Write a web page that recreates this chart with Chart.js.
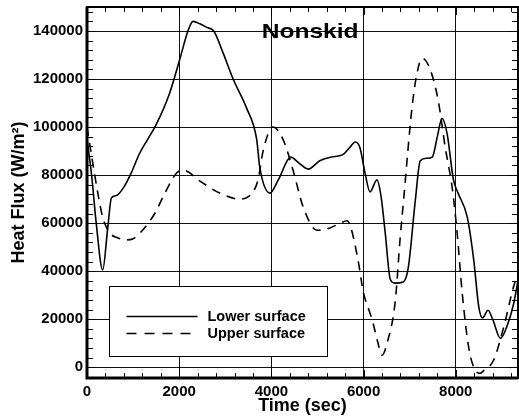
<!DOCTYPE html>
<html>
<head>
    <script src="https://cdn.jsdelivr.net/npm/chart.js"></script>
    <style>
        html, body { margin: 0; padding: 0; background: #fff; }
        #wrap { width: 519px; height: 417px; }
    </style>
</head>
<body>
    <div id="wrap">
        <canvas id="heatChart"></canvas>
    </div>

    <script>
        // series: time (sec) and heat flux (W/m^2)
        const lowerTime = [0, 100, 200, 340, 450, 530, 640, 800, 950, 1140, 1320, 1500, 1790, 2010, 2190, 2300, 2450, 2600, 2750, 2950, 3170, 3460, 3680, 3750, 3970, 4150, 4420, 4600, 4800, 5050, 5300, 5550, 5700, 5820, 5920, 6030, 6140, 6290, 6380, 6470, 6580, 6680, 6860, 6970, 7120, 7230, 7370, 7490, 7600, 7700, 7810, 7950, 8050, 8250, 8390, 8500, 8580, 8700, 8800, 8970, 9110, 9250, 9350];
        const lowerFlux = [95000, 80000, 60000, 40500, 58000, 70500, 71500, 75000, 80500, 89000, 95000, 101000, 114000, 128000, 140000, 144000, 143000, 141500, 140000, 131000, 120000, 108000, 95000, 83000, 72500, 78000, 87500, 85000, 82500, 86000, 87500, 88500, 91500, 93800, 91500, 81000, 73000, 78000, 71000, 55800, 36500, 35000, 35500, 41500, 69000, 86000, 87000, 87500, 96000, 103700, 97500, 78000, 72500, 62500, 44600, 25000, 20500, 23700, 20000, 12000, 17000, 26000, 36000];

        const upperTime = [0, 100, 230, 340, 490, 650, 860, 1000, 1180, 1470, 1690, 1950, 2100, 2450, 2880, 3310, 3500, 3710, 3820, 4030, 4250, 4470, 4690, 4990, 5270, 5500, 5640, 5710, 5880, 6000, 6140, 6210, 6300, 6400, 6510, 6690, 6790, 6870, 7050, 7160, 7270, 7450, 7620, 7770, 7930, 8030, 8140, 8280, 8420, 8530, 8600, 8820, 9040, 9250, 9350];
        const upperFlux = [100000, 88000, 73000, 62500, 56000, 54000, 53000, 53500, 56500, 64000, 72500, 81000, 82000, 77500, 72500, 70000, 71000, 78000, 90000, 100000, 95000, 82000, 66700, 57000, 58000, 60000, 61000, 59000, 44600, 30800, 22500, 18000, 11000, 5000, 10000, 28000, 53000, 70000, 108000, 122500, 128700, 123700, 111000, 91700, 73700, 55800, 30800, 8300, -1200, -2500, -1500, 2900, 16700, 33300, 39000];

        const xTicks = [0, 2000, 4000, 6000, 8000];
        const yTicks = [0, 20000, 40000, 60000, 80000, 100000, 120000, 140000];
        const seriesNames = ['Lower surface', 'Upper surface'];
        const panelLabel = 'Nonskid';

        const fontFamily = '"Liberation Sans", Arial, sans-serif';

        function toPoints(xs, ys) {
            return xs.map(function (x, i) { return { x: x, y: ys[i] }; });
        }

        // inward minor ticks, full frame, inset legend and panel label
        const decorations = {
            id: 'decorations',
            afterDatasetsDraw(chart) {
                const ctx = chart.ctx;
                const a = chart.chartArea;
                const xs = chart.scales.x;
                const ys = chart.scales.y;
                ctx.save();
                ctx.strokeStyle = '#000';
                ctx.lineWidth = 1;
                ctx.setLineDash([]);
                ctx.beginPath();
                for (let t = 0; t <= xs.max; t += 400) {
                    const px = Math.round(xs.getPixelForValue(t)) + 0.5;
                    const len = t % 2000 === 0 ? 8 : 5;
                    ctx.moveTo(px, a.bottom); ctx.lineTo(px, a.bottom - len);
                    ctx.moveTo(px, a.top); ctx.lineTo(px, a.top + len);
                }
                for (let v = -4000; v <= ys.max; v += 4000) {
                    if (v < ys.min) continue;
                    const py = Math.round(ys.getPixelForValue(v)) + 0.5;
                    const len = v % 20000 === 0 ? 9 : 6;
                    ctx.moveTo(a.left, py); ctx.lineTo(a.left + len, py);
                    ctx.moveTo(a.right, py); ctx.lineTo(a.right - len, py);
                }
                ctx.stroke();

                // frame
                ctx.lineWidth = 2;
                ctx.strokeRect(a.left, a.top, a.right - a.left, a.bottom - a.top);
                ctx.lineWidth = 3;
                ctx.beginPath();
                ctx.moveTo(a.left, a.top); ctx.lineTo(a.left, a.bottom); ctx.lineTo(a.right, a.bottom);
                ctx.stroke();

                // legend box
                const bx = a.left + 22.5, by = a.top + 279.5, bw = 218, bh = 70;
                ctx.fillStyle = '#fff';
                ctx.fillRect(bx, by, bw, bh);
                ctx.lineWidth = 1;
                ctx.strokeRect(bx, by, bw, bh);
                ctx.font = 'bold 14.5px ' + fontFamily;
                ctx.fillStyle = '#000';
                ctx.textBaseline = 'middle';
                ctx.textAlign = 'left';
                chart.data.datasets.forEach(function (ds, i) {
                    const ly = by + 30 + i * 17;
                    ctx.lineWidth = 1.5;
                    ctx.setLineDash(ds.borderDash ? [10, 8] : []);
                    ctx.beginPath();
                    ctx.moveTo(bx + 17, ly); ctx.lineTo(bx + 88, ly);
                    ctx.stroke();
                    ctx.setLineDash([]);
                    ctx.fillText(seriesNames[i], bx + 98, ly);
                });

                // panel label (wide bold face, stretched a little)
                ctx.font = 'bold 21px ' + fontFamily;
                ctx.textAlign = 'center';
                ctx.textBaseline = 'middle';
                ctx.translate(xs.getPixelForValue(4840), ys.getPixelForValue(140000) + 1);
                ctx.scale(1.17, 1);
                ctx.fillText(panelLabel, 0, 0);
                ctx.restore();
            }
        };

        const data = {
            datasets: [{
                label: seriesNames[0],
                data: toPoints(lowerTime, lowerFlux),
                borderColor: '#000',
                borderWidth: 1.6,
                pointRadius: 0,
                cubicInterpolationMode: 'monotone',
                fill: false
            }, {
                label: seriesNames[1],
                data: toPoints(upperTime, upperFlux),
                borderColor: '#000',
                borderWidth: 1.6,
                borderDash: [9, 7],
                pointRadius: 0,
                cubicInterpolationMode: 'monotone',
                fill: false
            }]
        };

        const config = {
            type: 'line',
            data: data,
            options: {
                responsive: false,
                animation: false,
                layout: { padding: { top: 7, right: 1, left: 0, bottom: 0 } },
                plugins: {
                    legend: { display: false },
                    tooltip: { enabled: false }
                },
                scales: {
                    x: {
                        type: 'linear',
                        min: 0,
                        max: 9350,
                        afterBuildTicks: function (scale) {
                            scale.ticks = xTicks.map(function (v) { return { value: v }; });
                        },
                        afterFit: function (scale) { scale.height = 39; },
                        grid: { color: '#111', lineWidth: 1, drawTicks: false },
                        border: { display: false },
                        ticks: {
                            color: '#000',
                            padding: 5,
                            maxRotation: 0,
                            callback: function (value) { return String(value); },
                            font: { family: fontFamily, size: 15, weight: 'bold' }
                        },
                        title: {
                            display: true,
                            text: 'Time (sec)',
                            color: '#000',
                            padding: { top: 0, bottom: 0 },
                            font: { family: fontFamily, size: 18, weight: 'bold' }
                        }
                    },
                    y: {
                        min: -4500,
                        max: 150000,
                        afterBuildTicks: function (scale) {
                            scale.ticks = yTicks.map(function (v) { return { value: v }; });
                        },
                        afterFit: function (scale) {
                            scale.width = 87;
                            scale.paddingTop = 0;
                            scale.paddingBottom = 0;
                        },
                        grid: { color: '#111', lineWidth: 1, drawTicks: false },
                        border: { display: false },
                        ticks: {
                            color: '#000',
                            padding: 4,
                            callback: function (value) { return String(value); },
                            font: { family: fontFamily, size: 15, weight: 'bold' }
                        },
                        title: {
                            display: true,
                            text: 'Heat Flux (W/m²)',
                            color: '#000',
                            padding: { top: 8, bottom: 0 },
                            font: { family: fontFamily, size: 18, weight: 'bold' }
                        }
                    }
                }
            },
            plugins: [decorations]
        };

        const canvas = document.getElementById('heatChart');
        canvas.width = 519;
        canvas.height = 417;
        const myChart = new Chart(canvas, config);
    </script>
</body>
</html>
